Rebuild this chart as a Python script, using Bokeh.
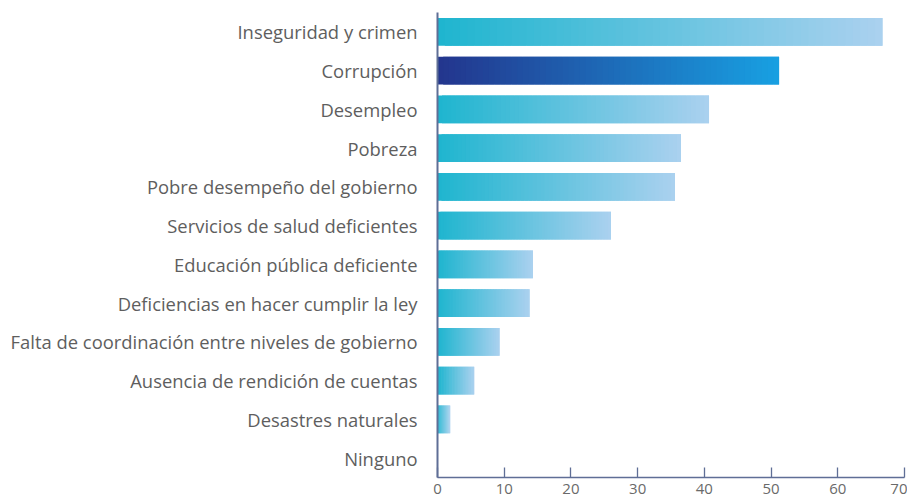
from bokeh.plotting import figure
from bokeh.models import FactorRange, ColumnDataSource
from bokeh.embed import file_html
from bokeh.resources import INLINE

categories = [
    "Inseguridad y crimen",
    "Corrupción",
    "Desempleo",
    "Pobreza",
    "Pobre desempeño del gobierno",
    "Servicios de salud deficientes",
    "Educación pública deficiente",
    "Deficiencias en hacer cumplir la ley",
    "Falta de coordinación entre niveles de gobierno",
    "Ausencia de rendición de cuentas",
    "Desastres naturales",
    "Ninguno",
]
values = [66.7, 51.2, 40.7, 36.5, 35.6, 26.0, 14.3, 13.8, 9.3, 5.5, 1.9, 0.0]
x_ticks = [0, 10, 20, 30, 40, 50, 60, 70]

highlight = "Corrupción"
grad_normal = ((0x1e, 0xb5, 0xcf), (0xab, 0xd1, 0xef))
grad_high = ((0x23, 0x35, 0x8d), (0x18, 0xa0, 0xe2))
N_SEG = 60


def lerp(c0, c1, t):
    return "#%02x%02x%02x" % tuple(int(round(a + (b - a) * t)) for a, b in zip(c0, c1))


ys, lefts, rights, colors = [], [], [], []
for cat, v in zip(categories, values):
    if v <= 0:
        continue
    c0, c1 = grad_high if cat == highlight else grad_normal
    for i in range(N_SEG):
        ys.append(cat)
        lefts.append(v * i / N_SEG)
        rights.append(min(v, v * (i + 2) / N_SEG))
        colors.append(lerp(c0, c1, (i + 0.5) / N_SEG))

src = ColumnDataSource(dict(y=ys, left=lefts, right=rights, color=colors))

p = figure(
    width=907,
    height=496,
    y_range=FactorRange(factors=categories[::-1], range_padding=0),
    x_range=(0, 70),
    output_backend="svg",
    toolbar_location=None,
    min_border_left=437,
    min_border_right=3,
    min_border_top=12,
    min_border_bottom=0,
)

p.hbar(y="y", left="left", right="right", height=0.72, fill_color="color",
       line_color=None, source=src)

axis_color = "#5f6e96"
p.outline_line_color = None
p.xgrid.grid_line_color = None
p.ygrid.grid_line_color = None
p.background_fill_color = "white"
p.border_fill_color = "white"

p.xaxis.ticker = x_ticks
p.xaxis.axis_line_color = axis_color
p.xaxis.axis_line_width = 1.5
p.xaxis.major_tick_line_color = axis_color
p.xaxis.major_tick_line_width = 1.3
p.xaxis.major_tick_in = 10
p.xaxis.major_tick_out = 0
p.xaxis.minor_tick_line_color = None
p.xaxis.major_label_text_font = "Open Sans"
p.xaxis.major_label_text_font_size = "15px"
p.xaxis.major_label_text_color = "#6a6a6a"
p.xaxis.major_label_standoff = 6

p.yaxis.axis_line_color = axis_color
p.yaxis.axis_line_width = 2
p.yaxis.major_tick_line_color = None
p.yaxis.minor_tick_line_color = None
p.yaxis.major_tick_in = 0
p.yaxis.major_tick_out = 0
p.yaxis.major_label_text_font = "Open Sans"
p.yaxis.major_label_text_font_size = "18.4px"
p.yaxis.major_label_text_color = "#5e5e5e"
p.yaxis.major_label_standoff = 20

open("out.html", "w").write(file_html(p, INLINE))
